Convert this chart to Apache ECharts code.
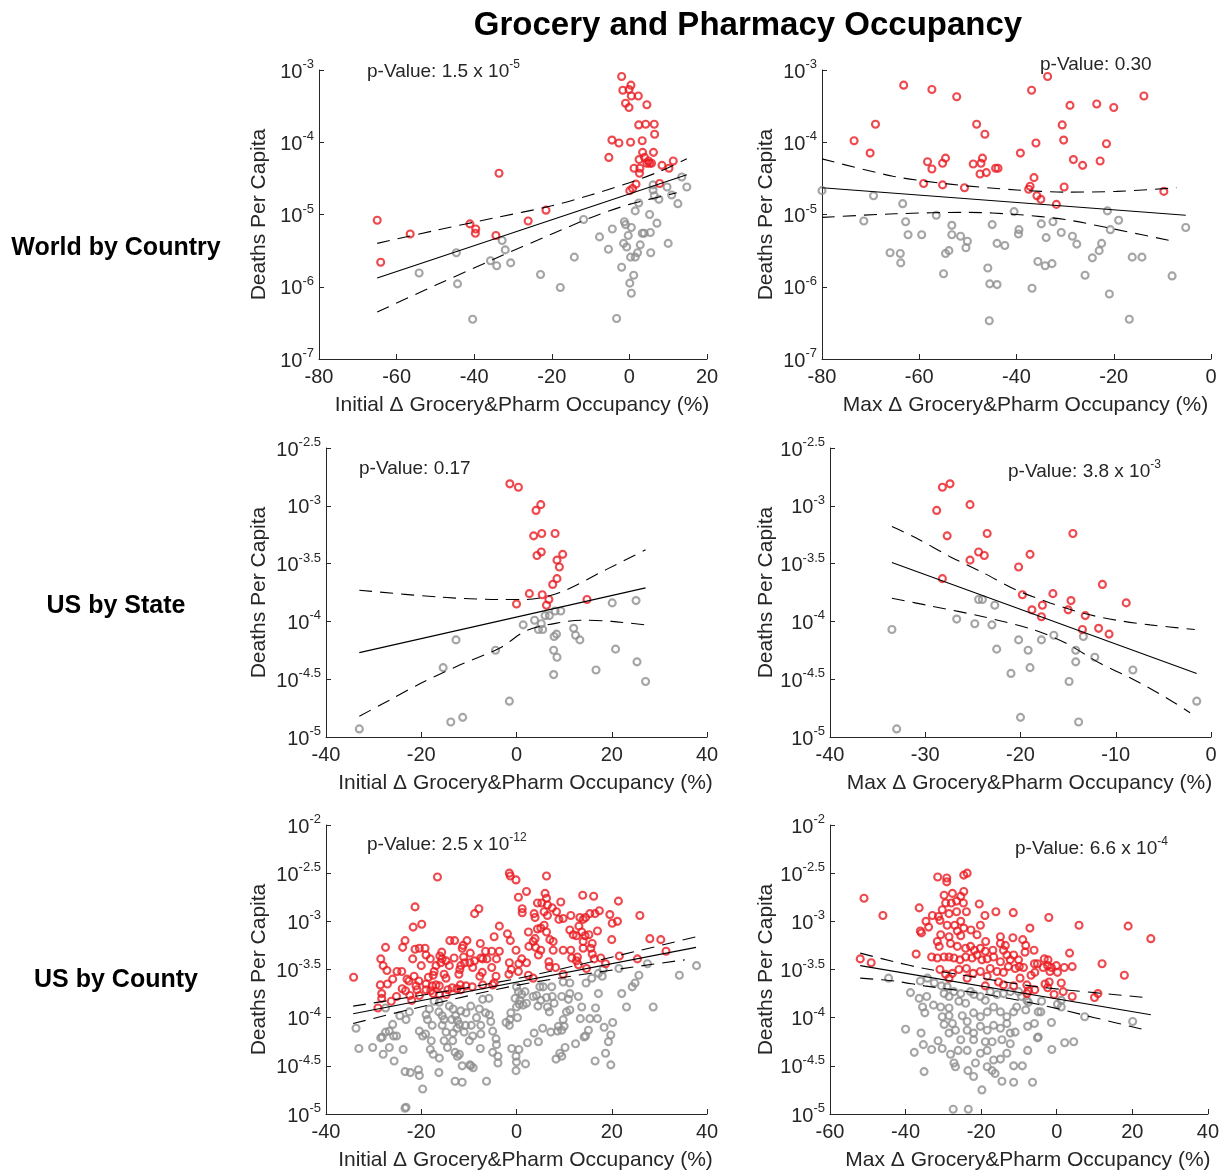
<!DOCTYPE html>
<html>
<head>
<meta charset="utf-8">
<script src="https://cdn.jsdelivr.net/npm/echarts@6/dist/echarts.min.js"></script>
<style>
html,body{margin:0;padding:0;background:#fff;}
#chart{width:1222px;height:1173px;}
</style>
</head>
<body>
<div id="chart"></div>
<script>
// All y values are log10(deaths per capita); x values are % change.
// ---- World by Country, initial change ----
const worldInitRed = [[-2.0,-3.09],[0.4,-3.21],[-0.1,-3.27],[-1.7,-3.28],[0.5,-3.36],[2.3,-3.36],[-1.0,-3.46],[-0.1,-3.52],[4.5,-3.48],[2.4,-3.76],[4.2,-3.75],[6.4,-3.75],[6.5,-3.89],[-4.5,-3.97],[-2.7,-4.01],[0.3,-4.00],[3.3,-3.98],[-5.3,-4.21],[6.2,-4.14],[3.4,-4.14],[2.5,-4.24],[3.9,-4.21],[4.5,-4.29],[5.2,-4.29],[5.7,-4.29],[4.9,-4.26],[1.2,-4.36],[2.7,-4.36],[2.6,-4.43],[8.4,-4.32],[10.2,-4.36],[11.3,-4.26],[7.8,-4.57],[1.7,-4.58],[0.8,-4.64],[0.1,-4.67],[-33.6,-4.43],[-21.5,-4.94],[-26.1,-5.09],[-41.1,-5.13],[-39.6,-5.20],[-39.7,-5.26],[-34.4,-5.29],[-56.5,-5.27],[-65.0,-5.08],[-64.1,-5.66]];
const worldInitGray = [[13.5,-4.48],[14.8,-4.62],[9.7,-4.62],[10.9,-4.73],[12.5,-4.85],[6.1,-4.59],[6.1,-4.66],[6.4,-4.74],[7.6,-4.79],[2.4,-4.84],[1.5,-4.95],[5.2,-5.00],[7.1,-5.12],[-11.8,-5.07],[-1.3,-5.10],[-1.0,-5.14],[0.5,-5.18],[-0.3,-5.29],[-4.4,-5.20],[-7.7,-5.31],[-1.5,-5.40],[-0.7,-5.45],[3.3,-5.26],[3.8,-5.26],[5.4,-5.25],[2.8,-5.42],[-5.4,-5.48],[2.1,-5.53],[1.5,-5.59],[0.3,-5.59],[5.5,-5.53],[10.0,-5.40],[-14.2,-5.59],[-2.0,-5.73],[1.1,-5.84],[0.1,-5.95],[0.5,-6.09],[-3.3,-6.44],[-32.8,-5.36],[-32.0,-5.49],[-30.6,-5.67],[-35.8,-5.64],[-34.2,-5.71],[-44.6,-5.53],[-54.2,-5.81],[-44.3,-5.96],[-22.9,-5.83],[-17.8,-6.01],[-40.4,-6.45]];
const worldInitFit = [[-65,-5.88],[14.8,-4.45]];
const worldInitUpper = [[-65,-5.40],[-50,-5.22],[-35,-5.05],[-20,-4.88],[-10,-4.73],[0,-4.56],[8,-4.40],[14.8,-4.23]];
const worldInitLower = [[-65,-6.35],[-50,-5.98],[-35,-5.62],[-20,-5.27],[-9.3,-5.03],[0,-4.86],[12.2,-4.70]];

// ---- World by Country, max change ----
const worldMaxRed = [[-63.2,-3.21],[-57.4,-3.27],[-52.3,-3.37],[-33.6,-3.09],[-36.9,-3.28],[-29.0,-3.49],[-23.5,-3.47],[-20.0,-3.52],[-13.8,-3.36],[-69.0,-3.75],[-73.4,-3.98],[-70.1,-4.15],[-48.2,-3.75],[-46.5,-3.89],[-30.6,-3.76],[-30.3,-3.97],[-36.0,-4.01],[-39.2,-4.15],[-21.5,-4.02],[-58.3,-4.27],[-57.4,-4.37],[-55.2,-4.29],[-54.6,-4.22],[-48.9,-4.30],[-47.3,-4.29],[-47.0,-4.22],[-47.5,-4.44],[-46.2,-4.42],[-44.3,-4.36],[-43.8,-4.36],[-59.1,-4.57],[-55.2,-4.59],[-50.7,-4.63],[-36.4,-4.49],[-37.2,-4.61],[-37.5,-4.65],[-35.8,-4.74],[-35.0,-4.79],[-30.2,-4.62],[-28.3,-4.24],[-26.4,-4.32],[-22.8,-4.26],[-31.8,-4.86],[-9.7,-4.68]];
const worldMaxGray = [[-80.0,-4.67],[-69.4,-4.74],[-71.4,-5.09],[-63.4,-4.85],[-62.8,-5.10],[-62.3,-5.28],[-59.5,-5.28],[-66.0,-5.53],[-63.9,-5.54],[-63.8,-5.67],[-53.9,-5.50],[-54.6,-5.54],[-55.0,-5.82],[-53.3,-5.15],[-53.3,-5.28],[-56.5,-5.01],[-51.5,-5.30],[-50.1,-5.37],[-50.4,-5.46],[-45.0,-5.14],[-44.0,-5.40],[-42.4,-5.43],[-45.9,-5.74],[-45.5,-5.96],[-44.0,-5.97],[-45.6,-6.47],[-40.5,-4.96],[-39.5,-5.21],[-39.6,-5.27],[-34.9,-5.13],[-33.9,-5.32],[-35.6,-5.65],[-34.1,-5.71],[-32.7,-5.68],[-36.8,-6.02],[-32.5,-5.10],[-30.8,-5.25],[-28.5,-5.30],[-27.6,-5.41],[-25.9,-5.84],[-24.4,-5.60],[-23.0,-5.50],[-22.5,-5.40],[-21.3,-4.95],[-20.7,-5.21],[-19.0,-5.08],[-20.9,-6.10],[-16.2,-5.59],[-14.2,-5.59],[-16.8,-6.45],[-8.0,-5.85],[-5.2,-5.18]];
const worldMaxFit = [[-80,-4.63],[-5.2,-5.01]];
const worldMaxUpper = [[-80,-4.23],[-65.4,-4.47],[-53.7,-4.58],[-40,-4.66],[-29.7,-4.69],[-19.4,-4.68],[-7.1,-4.63]];
const worldMaxLower = [[-80,-5.04],[-65,-4.99],[-50,-4.97],[-40,-5.00],[-30,-5.07],[-20,-5.20],[-7.1,-5.38]];

// ---- US by State, initial change ----
const stateInitRed = [[-1.4,-2.81],[0.4,-2.84],[5.1,-2.99],[4.1,-3.04],[3.6,-3.26],[5.3,-3.24],[8.1,-3.24],[4.3,-3.43],[5.2,-3.40],[9.7,-3.42],[8.5,-3.47],[9.0,-3.53],[8.5,-3.63],[7.6,-3.68],[2.7,-3.76],[5.4,-3.77],[6.8,-3.81],[6.3,-3.86],[0.0,-3.85],[14.8,-3.81]];
const stateInitGray = [[20.1,-3.84],[25.1,-3.82],[8.1,-3.91],[9.3,-3.91],[6.0,-3.95],[6.9,-3.95],[3.8,-3.99],[5.2,-4.02],[1.4,-4.03],[4.6,-4.07],[5.5,-4.07],[12.0,-4.06],[12.4,-4.12],[13.3,-4.16],[7.9,-4.13],[8.4,-4.11],[-12.7,-4.16],[-4.4,-4.25],[7.8,-4.25],[8.5,-4.31],[20.8,-4.24],[25.3,-4.35],[-15.4,-4.40],[16.7,-4.42],[7.8,-4.46],[27.1,-4.52],[-1.5,-4.69],[-11.3,-4.83],[-13.8,-4.87],[-33.0,-4.93]];
const stateInitFit = [[-33,-4.27],[27.1,-3.71]];
const stateInitUpper = [[-33,-3.73],[-16.1,-3.79],[-3.5,-3.81],[2.1,-3.81],[9.1,-3.75],[18.9,-3.55],[27.1,-3.38]];
const stateInitLower = [[-33,-4.82],[-26.6,-4.68],[-20.3,-4.54],[-12.6,-4.39],[-3.5,-4.23],[2.1,-4.08],[9.1,-4.01],[14,-3.99],[20,-4.00],[27.1,-4.03]];

// ---- US by State, max change ----
const stateMaxRed = [[-28.2,-2.84],[-27.4,-2.81],[-28.8,-3.04],[-25.3,-2.99],[-27.7,-3.26],[-23.5,-3.24],[-24.4,-3.40],[-23.8,-3.43],[-25.3,-3.47],[-19.0,-3.42],[-20.2,-3.53],[-14.5,-3.24],[-28.2,-3.63],[-19.8,-3.77],[-16.6,-3.76],[-14.7,-3.82],[-17.7,-3.86],[-18.8,-3.90],[-17.8,-3.96],[-15.0,-3.90],[-13.2,-3.95],[-13.5,-4.07],[-11.8,-4.06],[-10.7,-4.11],[-11.4,-3.68],[-8.9,-3.84]];
const stateMaxGray = [[-24.4,-3.81],[-24.0,-3.81],[-22.7,-3.86],[-26.7,-3.98],[-24.8,-4.02],[-23.0,-4.03],[-33.5,-4.07],[-20.2,-4.16],[-17.8,-4.16],[-16.5,-4.12],[-13.4,-4.13],[-22.5,-4.24],[-19.2,-4.25],[-14.2,-4.25],[-12.2,-4.31],[-19.0,-4.40],[-14.2,-4.35],[-21.0,-4.45],[-14.9,-4.52],[-8.2,-4.42],[-1.5,-4.69],[-20.0,-4.83],[-13.9,-4.87],[-33.0,-4.93]];
const stateMaxFit = [[-33.5,-3.49],[-1.5,-4.45]];
const stateMaxUpper = [[-33.5,-3.18],[-30.9,-3.28],[-27.4,-3.44],[-23.9,-3.58],[-20.4,-3.73],[-16.9,-3.84],[-13.4,-3.93],[-9.9,-3.99],[-6.4,-4.03],[-1.7,-4.07]];
const stateMaxLower = [[-33.5,-3.80],[-29.2,-3.87],[-23.9,-3.96],[-18.7,-4.07],[-15.2,-4.19],[-11.7,-4.36],[-8.2,-4.50],[-4.7,-4.66],[-2.2,-4.79]];

// ---- US by County, initial change ----
const countyInitRed = [[-16.6,-2.54],[-21.3,-2.85],[-21.7,-3.06],[-19.9,-3.03],[-8.8,-2.92],[-7.9,-2.87],[-1.5,-2.50],[-1.3,-2.53],[-0.1,-2.57],[0.4,-2.75],[-3.6,-3.05],[-27.5,-3.27],[-23.4,-3.20],[-23.9,-3.27],[-21.3,-3.29],[-20.4,-3.28],[-19.2,-3.28],[-21.8,-3.39],[-20.0,-3.46],[-19.0,-3.35],[-18.1,-3.39],[-28.5,-3.39],[-28.0,-3.46],[-27.2,-3.51],[-34.2,-3.58],[-25.1,-3.52],[-24.1,-3.52],[-22.6,-3.62],[-28.6,-3.66],[-27.1,-3.65],[-28.3,-3.75],[-28.3,-3.80],[-29.1,-3.90],[-26.3,-3.83],[-25.2,-3.78],[-24.0,-3.70],[-23.3,-3.72],[-22.0,-3.82],[-21.1,-3.67],[-20.9,-3.71],[-19.0,-3.65],[-19.0,-3.71],[-22.4,-3.77],[-20.4,-3.77],[-17.5,-3.56],[-17.3,-3.52],[-16.9,-3.46],[-16.1,-3.36],[-15.7,-3.32],[-15.6,-3.39],[-15.9,-3.43],[-14.0,-3.20],[-13.0,-3.20],[-13.1,-3.38],[-14.8,-3.41],[-14.1,-3.46],[-15.2,-3.55],[-14.8,-3.59],[-16.9,-3.66],[-17.7,-3.67],[-16.2,-3.67],[-17.5,-3.75],[-16.2,-3.76],[-14.8,-3.76],[-14.4,-3.71],[-13.5,-3.69],[-12.5,-3.70],[-11.8,-3.66],[-11.7,-3.71],[-10.6,-3.67],[-9.3,-3.68],[-12.1,-3.55],[-11.9,-3.50],[-11.7,-3.46],[-10.9,-3.43],[-11.1,-3.37],[-11.4,-3.28],[-11.2,-3.25],[-10.4,-3.20],[-9.7,-3.33],[-9.8,-3.43],[-9.2,-3.48],[-8.8,-3.41],[-7.7,-3.57],[-7.2,-3.53],[-7.5,-3.38],[-7.1,-3.39],[-7.6,-3.23],[-6.5,-3.31],[-6.2,-3.39],[-5.2,-3.31],[-4.7,-3.16],[-1.9,-3.13],[-1.3,-3.20],[-3.6,-3.31],[-5.2,-3.48],[-4.2,-3.39],[-4.3,-3.57],[-4.7,-3.64],[-1.5,-3.43],[-1.1,-3.50],[-1.6,-3.55],[-7.1,-3.66],[-5.0,-3.66],[-0.1,-3.30],[-23.0,-3.60],[-21.5,-3.57],[-20.5,-3.62],[-18.5,-3.58],[-26.0,-3.60],[-18.0,-3.72],
  [6.3,-2.53],[2.1,-2.69],[1.2,-2.87],[1.2,-2.91],[3.7,-2.92],[4.4,-2.81],[5.3,-2.81],[6.0,-2.71],[6.3,-2.76],[6.5,-2.83],[7.5,-2.86],[8.4,-2.90],[9.3,-2.80],[5.8,-2.90],[3.9,-2.96],[6.5,-2.94],[8.9,-2.98],[9.8,-2.97],[11.4,-2.94],[13.9,-2.73],[16.2,-2.74],[21.4,-2.79],[15.4,-2.92],[16.5,-2.92],[17.4,-2.89],[19.6,-2.93],[20.1,-3.02],[21.2,-3.00],[25.9,-2.94],[13.3,-2.96],[14.0,-2.98],[14.5,-2.96],[13.1,-3.05],[13.7,-3.11],[11.2,-3.09],[11.9,-3.14],[12.6,-3.15],[14.4,-3.15],[15.2,-3.14],[17.0,-3.10],[20.0,-3.19],[28.0,-3.18],[30.3,-3.19],[31.4,-3.31],[25.4,-3.39],[21.6,-3.36],[17.7,-3.38],[18.7,-3.44],[16.3,-3.39],[15.9,-3.34],[15.6,-3.28],[15.9,-3.23],[14.0,-3.21],[14.0,-3.28],[11.4,-3.30],[12.8,-3.37],[11.6,-3.38],[12.6,-3.41],[14.7,-3.49],[13.0,-3.45],[9.8,-3.30],[7.7,-3.30],[6.8,-3.42],[6.9,-3.47],[8.2,-3.48],[9.8,-3.55],[5.1,-3.30],[4.0,-3.27],[4.6,-3.35],[3.5,-3.21],[2.6,-3.26],[3.9,-3.18],[2.5,-3.11],[4.4,-3.08],[5.1,-3.07],[5.8,-3.04],[6.3,-3.11],[7.0,-3.19],[7.7,-3.21],[1.1,-3.39],[2.1,-3.43],[0.5,-3.44],[0.4,-3.52],[2.5,-3.56],[3.5,-3.59]];
const countyInitGray = [[-33.7,-4.11],[-33.1,-4.32],[-30.2,-4.31],[-28.2,-4.20],[-26.7,-4.14],[-26.0,-4.07],[-25.2,-4.19],[-28.0,-4.38],[-26.7,-4.31],[-25.7,-4.45],[-23.8,-4.33],[-23.4,-4.56],[-22.3,-4.57],[-20.6,-4.54],[-20.4,-4.60],[-19.7,-4.74],[-23.4,-4.94],[-23.2,-4.93],[-27.5,-3.90],[-24.5,-3.98],[-23.2,-4.02],[-22.5,-3.94],[-20.4,-4.14],[-19.7,-4.19],[-19.1,-4.17],[-19.0,-3.97],[-18.7,-4.02],[-18.3,-3.91],[-17.7,-4.08],[-17.9,-4.24],[-18.1,-4.33],[-17.5,-4.38],[-16.2,-4.42],[-16.3,-4.57],[-17.3,-3.83],[-16.2,-3.84],[-16.3,-3.94],[-15.6,-3.98],[-15.2,-4.02],[-15.6,-4.08],[-14.8,-4.15],[-15.2,-4.24],[-14.5,-4.31],[-13.6,-4.02],[-14.1,-3.88],[-13.3,-3.91],[-12.8,-3.98],[-12.4,-4.03],[-12.0,-4.07],[-11.7,-3.93],[-12.5,-4.11],[-13.3,-4.16],[-13.4,-4.24],[-12.9,-4.36],[-12.4,-4.40],[-12.0,-4.38],[-11.4,-4.50],[-11.0,-4.15],[-10.7,-4.08],[-10.6,-3.95],[-9.6,-3.88],[-9.5,-4.08],[-9.2,-4.19],[-9.9,-4.24],[-9.6,-4.50],[-9.1,-4.52],[-9.8,-4.49],[-12.9,-4.66],[-11.4,-4.67],[-7.6,-4.32],[-7.5,-4.17],[-7.5,-4.08],[-8.4,-4.00],[-7.8,-3.91],[-7.1,-3.81],[-5.8,-3.80],[-6.5,-3.95],[-5.7,-3.97],[-5.4,-4.04],[-5.0,-4.14],[-4.3,-4.22],[-4.2,-4.28],[-5.0,-4.36],[-3.9,-4.40],[-3.9,-4.47],[-6.3,-4.66],[-2.2,-4.05],[-1.4,-4.02],[-1.5,-4.08],[-1.0,-4.32],[-0.1,-4.55],[-0.1,-4.40],[-1.2,-3.95],[0.2,-4.00],[0.6,-3.86],[-28.5,-4.21],[-27.5,-4.15],[-25.8,-4.19],
  [0.0,-3.68],[0.4,-3.73],[1.1,-3.76],[1.8,-3.73],[-0.3,-3.80],[0.7,-3.82],[1.4,-3.87],[2.1,-3.85],[0.0,-3.89],[3.5,-3.78],[4.2,-3.77],[4.9,-3.68],[5.6,-3.68],[4.5,-3.88],[5.1,-3.82],[6.3,-3.79],[6.5,-3.89],[6.9,-3.94],[7.5,-3.78],[7.9,-3.85],[7.4,-3.68],[9.5,-3.78],[9.8,-3.63],[11.2,-3.64],[11.2,-3.75],[10.9,-3.81],[10.5,-3.94],[11.2,-3.92],[13.0,-3.78],[13.7,-3.89],[14.6,-3.64],[15.8,-3.59],[17.2,-3.54],[18.0,-3.57],[17.2,-3.75],[16.6,-3.90],[15.4,-4.01],[17.0,-4.01],[13.4,-4.01],[9.8,-4.02],[10.0,-4.09],[8.8,-4.09],[9.5,-4.13],[8.6,-4.14],[7.2,-4.15],[5.5,-4.11],[3.7,-4.16],[4.6,-4.25],[2.3,-4.26],[0.5,-4.33],[0.0,-4.46],[1.9,-4.48],[8.3,-4.43],[9.1,-4.37],[9.5,-4.40],[10.2,-4.31],[12.4,-4.27],[14.5,-4.19],[15.1,-4.13],[14.2,-4.20],[18.4,-4.10],[20.2,-4.05],[19.8,-4.18],[19.3,-4.25],[18.7,-4.37],[16.5,-4.45],[19.8,-4.49],[22.1,-3.75],[23.1,-3.89],[24.3,-3.68],[24.9,-3.64],[25.7,-3.56],[27.5,-3.44],[28.7,-3.89],[34.2,-3.56],[37.8,-3.46],[21.5,-3.49],[18.2,-3.50]];
const countyInitFit = [[-34.3,-3.96],[37.7,-3.27]];
const countyInitUpper = [[-34.3,-3.88],[0,-3.595],[37.7,-3.16]];
const countyInitLower = [[-34.3,-4.06],[0,-3.665],[35.3,-3.40]];

// ---- US by County, max change ----
const countyMaxRed = [[-51.0,-2.76],[-46.0,-2.94],[-52.0,-3.39],[-49.1,-3.43],[-37.2,-3.34],[-31.5,-2.54],[-29.1,-2.55],[-29.1,-2.59],[-24.6,-2.52],[-23.7,-2.50],[-36.4,-2.86],[-29.8,-2.73],[-27.6,-2.71],[-25.4,-2.74],[-24.6,-2.69],[-29.4,-2.81],[-27.9,-2.81],[-26.5,-2.79],[-24.7,-2.81],[-30.3,-2.88],[-28.5,-2.92],[-26.5,-2.90],[-23.9,-2.90],[-20.5,-2.82],[-16.1,-2.90],[-11.5,-2.91],[-19.0,-2.94],[-32.9,-2.94],[-34.6,-3.00],[-33.9,-3.06],[-36.1,-3.10],[-35.8,-3.12],[-31.3,-2.95],[-30.9,-2.99],[-29.0,-3.04],[-27.0,-3.04],[-25.4,-3.00],[-24.6,-3.07],[-22.7,-3.09],[-20.2,-3.04],[-26.3,-3.10],[-30.7,-3.14],[-28.5,-3.16],[-25.4,-3.15],[-21.1,-3.14],[-18.8,-3.21],[-14.9,-3.16],[-11.6,-3.17],[-31.6,-3.21],[-31.1,-3.26],[-28.1,-3.23],[-26.3,-3.26],[-24.1,-3.28],[-22.8,-3.26],[-21.8,-3.30],[-20.2,-3.28],[-18.9,-3.31],[-16.9,-3.30],[-14.1,-3.30],[-13.2,-3.35],[-33.1,-3.37],[-31.6,-3.38],[-29.8,-3.37],[-28.5,-3.37],[-27.2,-3.38],[-25.6,-3.40],[-24.1,-3.37],[-22.4,-3.38],[-21.1,-3.35],[-19.8,-3.40],[-18.4,-3.39],[-16.7,-3.37],[-14.9,-3.42],[-12.3,-3.40],[-10.1,-3.40],[-30.9,-3.50],[-29.4,-3.55],[-27.6,-3.54],[-25.9,-3.50],[-23.9,-3.49],[-22.1,-3.54],[-20.2,-3.52],[-18.4,-3.57],[-17.6,-3.49],[-15.8,-3.52],[-14.1,-3.53],[-12.8,-3.47],[-11.0,-3.49],[-28.5,-3.59],[-23.7,-3.59],[-18.9,-3.67],[-15.4,-3.63],[-14.1,-3.66],[-11.4,-3.67],[-9.7,-3.59],[-9.9,-3.47],[-11.4,-3.35],[-9.0,-3.19],[-14.9,-3.23],[-13.6,-3.25],
  [-2.1,-2.96],[5.9,-3.04],[18.9,-3.05],[24.9,-3.18],[-7.1,-3.07],[-8.2,-3.25],[-8.4,-3.32],[-6.0,-3.30],[3.4,-3.33],[12.0,-3.44],[-3.3,-3.39],[-2.3,-3.40],[-5.9,-3.44],[-5.1,-3.44],[-3.6,-3.48],[-2.4,-3.46],[-1.4,-3.48],[-0.1,-3.46],[2.0,-3.48],[4.1,-3.47],[-8.8,-3.48],[-5.8,-3.53],[0.2,-3.53],[-6.8,-3.56],[-1.8,-3.52],[17.9,-3.56],[-2.0,-3.63],[-3.1,-3.65],[-2.4,-3.69],[-7.9,-3.66],[-7.5,-3.72],[-5.8,-3.71],[1.2,-3.64],[1.7,-3.73],[-0.7,-3.76],[4.1,-3.78],[10.9,-3.75],[10.0,-3.79],[-7.9,-3.75]];
const countyMaxGray = [[-44.5,-3.59],[-38.7,-3.74],[-36.4,-3.80],[-34.4,-3.78],[-35.5,-3.89],[-34.9,-3.95],[-32.6,-3.87],[-40.0,-4.12],[-35.9,-4.16],[-37.7,-4.36],[-35.3,-4.28],[-33.1,-4.33],[-35.1,-4.56],[-31.4,-4.24],[-30.3,-4.32],[-28.1,-4.38],[-27.2,-4.47],[-26.8,-4.51],[-23.5,-4.55],[-22.0,-4.61],[-19.8,-4.75],[-27.4,-4.95],[-23.4,-4.95],[-36.1,-3.62],[-34.2,-3.59],[-32.4,-3.64],[-30.5,-3.67],[-29.0,-3.68],[-29.8,-3.75],[-28.5,-3.78],[-27.2,-3.73],[-25.4,-3.75],[-25.9,-3.83],[-24.1,-3.85],[-22.8,-3.73],[-21.9,-3.76],[-20.2,-3.78],[-18.9,-3.82],[-17.6,-3.73],[-15.8,-3.76],[-14.1,-3.75],[-12.3,-3.73],[-10.1,-3.73],[-9.3,-3.78],[-30.7,-3.89],[-28.5,-3.90],[-30.3,-3.99],[-28.5,-3.98],[-27.6,-4.06],[-25.0,-3.98],[-23.7,-4.04],[-22.0,-3.95],[-20.2,-3.99],[-18.4,-3.94],[-16.7,-3.89],[-14.9,-3.94],[-13.2,-3.99],[-11.4,-3.94],[-10.6,-3.89],[-23.7,-4.13],[-22.0,-4.16],[-20.2,-4.09],[-18.4,-4.13],[-16.7,-4.08],[-14.9,-4.11],[-13.2,-4.06],[-12.3,-4.16],[-11.0,-4.15],[-25.4,-4.23],[-22.0,-4.23],[-18.9,-4.25],[-17.1,-4.25],[-14.5,-4.23],[-12.3,-4.27],[-26.1,-4.34],[-23.7,-4.34],[-20.2,-4.37],[-18.4,-4.34],[-16.7,-4.44],[-14.9,-4.43],[-13.2,-4.37],[-11.4,-4.50],[-21.5,-4.47],[-18.4,-4.51],[-17.1,-4.55],[-16.3,-4.58],[-14.5,-4.66],[-11.4,-4.67],[-29.8,-4.07],[-26.8,-4.13],[-28.5,-4.16],
  [-7.9,-3.82],[-7.5,-3.84],[-4.0,-3.83],[0.2,-3.86],[1.2,-3.82],[1.2,-3.89],[-8.2,-3.92],[-4.9,-3.94],[-4.2,-3.94],[7.4,-3.99],[-1.4,-4.05],[20.1,-4.04],[-5.9,-4.06],[-7.7,-4.09],[-4.9,-4.20],[-5.1,-4.21],[2.1,-4.26],[4.5,-4.25],[-7.7,-4.34],[-1.3,-4.33],[-9.1,-4.50],[-6.4,-4.67]];
const countyMaxFit = [[-52,-3.46],[24.9,-3.97]];
const countyMaxUpper = [[-52,-3.33],[-43,-3.42],[-35,-3.49],[-20,-3.59],[-5,-3.68],[10,-3.74],[23.1,-3.79]];
const countyMaxLower = [[-52,-3.59],[-43,-3.62],[-35,-3.67],[-20,-3.75],[-5,-3.86],[10,-4.00],[22.7,-4.12]];

// ---- texts ----
const titleText = 'Grocery and Pharmacy Occupancy';
const rowLabels = ['World by Country', 'US by State', 'US by County'];
const xNameInit = 'Initial \u0394 Grocery&Pharm Occupancy (%)';
const xNameMax = 'Max \u0394 Grocery&Pharm Occupancy (%)';
const yName = 'Deaths Per Capita';
const pValues = [['p-Value: 1.5 x 10', '-5'], ['p-Value: 0.30', ''], ['p-Value: 0.17', ''], ['p-Value: 3.8 x 10', '-3'], ['p-Value: 2.5 x 10', '-12'], ['p-Value: 6.6 x 10', '-4']];

// ---- layout / styling ----
const F = '"Liberation Sans", Arial, Helvetica, sans-serif';
const RED = '#ea1b22';
const GRAY = '#8e8e8e';
const AX = '#262626';

const panels = [
  {grid:[319,70,388,289], x:[-80,20,20], y:[-7,-3,1], xName:xNameInit, yGap:49, red:worldInitRed, gray:worldInitGray, fit:worldInitFit, up:worldInitUpper, lo:worldInitLower, pPos:[367,70]},
  {grid:[822,70,389,289], x:[-80,0,20], y:[-7,-3,1], xName:xNameMax, yGap:45, red:worldMaxRed, gray:worldMaxGray, fit:worldMaxFit, up:worldMaxUpper, lo:worldMaxLower, pPos:[1040,63]},
  {grid:[326,448,381,289], x:[-40,40,20], y:[-5,-2.5,0.5], xName:xNameInit, yGap:56, red:stateInitRed, gray:stateInitGray, fit:stateInitFit, up:stateInitUpper, lo:stateInitLower, pPos:[359,467]},
  {grid:[830,448,381,289], x:[-40,0,10], y:[-5,-2.5,0.5], xName:xNameMax, yGap:53, red:stateMaxRed, gray:stateMaxGray, fit:stateMaxFit, up:stateMaxUpper, lo:stateMaxLower, pPos:[1008,470]},
  {grid:[326,825,381,289], x:[-40,40,20], y:[-5,-2,0.5], xName:xNameInit, yGap:56, red:countyInitRed, gray:countyInitGray, fit:countyInitFit, up:countyInitUpper, lo:countyInitLower, pPos:[367,843]},
  {grid:[830,825,381,289], x:[-60,40,20], y:[-5,-2,0.5], xName:xNameMax, yGap:53, red:countyMaxRed, gray:countyMaxGray, fit:countyMaxFit, up:countyMaxUpper, lo:countyMaxLower, pPos:[1015,847]}
];

const grids = [], xAxes = [], yAxes = [], series = [], graphics = [];

panels.forEach((p, i) => {
  grids.push({left:p.grid[0], top:p.grid[1], width:p.grid[2], height:p.grid[3], containLabel:false});
  xAxes.push({
    type:'value', gridIndex:i, min:p.x[0], max:p.x[1], interval:p.x[2],
    splitLine:{show:false},
    axisLine:{show:true, onZero:false, lineStyle:{color:AX, width:1}},
    axisTick:{show:true, inside:true, length:5, lineStyle:{color:AX}},
    axisLabel:{color:AX, fontSize:20, fontFamily:F, margin:8},
    name:p.xName, nameLocation:'middle', nameGap:36,
    nameTextStyle:{color:AX, fontSize:21, fontFamily:F, padding:[0,0,0,18]}
  });
  yAxes.push({
    type:'value', gridIndex:i, min:p.y[0], max:p.y[1], interval:p.y[2],
    splitLine:{show:false},
    axisLine:{show:true, onZero:false, lineStyle:{color:AX, width:1}},
    axisTick:{show:true, inside:true, length:5, lineStyle:{color:AX}},
    axisLabel:{
      margin:5, fontFamily:F,
      formatter: v => '{b|10}{s|' + (Math.round(v*10)/10) + '}',
      rich:{
        b:{fontSize:20, fontFamily:F, color:AX, lineHeight:24, verticalAlign:'bottom'},
        s:{fontSize:13, fontFamily:F, color:AX, lineHeight:24, verticalAlign:'top'}
      }
    },
    name:yName, nameLocation:'middle', nameGap:p.yGap, nameRotate:90,
    nameTextStyle:{color:AX, fontSize:21, fontFamily:F}
  });
  const mk = (data, col) => ({
    type:'scatter', xAxisIndex:i, yAxisIndex:i, data:data, symbol:'circle', symbolSize:7,
    itemStyle:{color:'rgba(255,255,255,0)', borderColor:col, borderWidth:2.1}, z:2, silent:true
  });
  series.push(mk(p.gray, GRAY));
  series.push(mk(p.red, RED));
  series.push({type:'line', xAxisIndex:i, yAxisIndex:i, data:p.fit, symbol:'none', showSymbol:false,
    lineStyle:{color:'#000', width:1.1}, z:4, silent:true});
  [p.up, p.lo].forEach(d => series.push({type:'line', xAxisIndex:i, yAxisIndex:i, data:d, symbol:'none', showSymbol:false,
    smooth:0.3, lineStyle:{color:'#000', width:1.1, type:[13,8]}, z:4, silent:true}));
  const pv = pValues[i];
  graphics.push({
    type:'text', x:p.pPos[0], y:p.pPos[1],
    style:{
      text:'{t|' + pv[0] + '}' + (pv[1] ? '{s|' + pv[1] + '}' : ''),
      verticalAlign:'middle',
      rich:{
        t:{fontSize:19, fontFamily:F, fill:AX, lineHeight:22, verticalAlign:'bottom'},
        s:{fontSize:12, fontFamily:F, fill:AX, lineHeight:22, verticalAlign:'top'}
      }
    }
  });
});

graphics.push({type:'text', x:748, y:26, style:{text:titleText, font:'bold 33px ' + F, fill:'#000', textAlign:'center', verticalAlign:'middle'}});
[248, 606, 980].forEach((y, k) => {
  graphics.push({type:'text', x:116, y:y, style:{text:rowLabels[k], font:'bold 25px ' + F, fill:'#000', textAlign:'center', verticalAlign:'middle'}});
});

const chart = echarts.init(document.getElementById('chart'), null, {renderer:'canvas'});
chart.setOption({
  animation:false,
  backgroundColor:'#fff',
  grid:grids, xAxis:xAxes, yAxis:yAxes, series:series, graphic:graphics
});
</script>
</body>
</html>
